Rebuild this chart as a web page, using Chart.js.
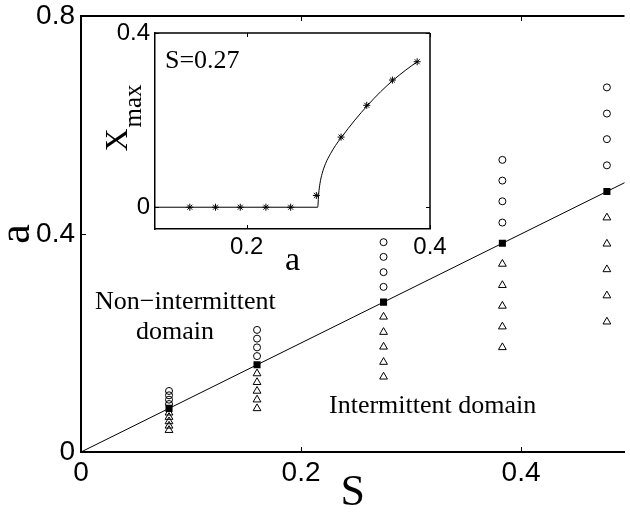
<!DOCTYPE html>
<html>
<head>
<meta charset="utf-8">
<script src="https://cdn.jsdelivr.net/npm/chart.js@4.4.0/dist/chart.umd.min.js"></script>
<style>
body{margin:0;background:#fff}
#wrap{position:relative;width:630px;height:512px;overflow:hidden}
#main{position:absolute;left:0;top:0}
#inset{position:absolute;left:95px;top:0}
</style>
</head>
<body>
<div id="wrap">
<canvas id="main" width="630" height="512"></canvas>
<canvas id="inset" width="370" height="300"></canvas>
</div>
<script>
// main plot: critical line a = S, probe points above (circles) and below (triangles)
var sCols     = [0.08, 0.16, 0.275, 0.383, 0.478];
var aSquare   = [0.08, 0.16, 0.275, 0.383, 0.478];
var aCircle   = [
	[0.088, 0.096, 0.104, 0.112],
	[0.176, 0.192, 0.208, 0.224],
	[0.303, 0.330, 0.358, 0.385],
	[0.421, 0.460, 0.498, 0.536],
	[0.526, 0.574, 0.621, 0.669]
];
var aTriangle = [
	[0.072, 0.064, 0.056, 0.048, 0.040],
	[0.144, 0.128, 0.112, 0.096, 0.080],
	[0.248, 0.220, 0.193, 0.165, 0.138],
	[0.345, 0.306, 0.268, 0.230, 0.192],
	[0.430, 0.382, 0.335, 0.287, 0.239]
];
var lineS  = [0, 0.6];
var lineA  = [0, 0.6];
var xTicks = [0, 0.2, 0.4];
var yTicks = [0, 0.4, 0.8];

// inset: X_max against a, S=0.27
var insetStarA  = [0.138, 0.166, 0.193, 0.221, 0.248, 0.276, 0.303, 0.331, 0.359, 0.386];
var insetStarX  = [0, 0, 0, 0, 0, 0.027, 0.161, 0.234, 0.292, 0.334];
var insetCurveA = [0.1, 0.2775, 0.2785, 0.2800, 0.2823, 0.2860, 0.2915, 0.2970, 0.3036, 0.318, 0.332, 0.346, 0.360, 0.373, 0.386];
var insetCurveX = [0, 0, 0.030, 0.055, 0.077, 0.100, 0.123, 0.142, 0.161, 0.200, 0.234, 0.265, 0.292, 0.314, 0.334];
var insetXTicks = [0.2, 0.4];
var insetYTicks = [0, 0.4];

var SERIF = 'Liberation Serif';
var SANS  = 'Liberation Sans';

function pairs(xs, ys){
	return xs.map(function(x, i){ return {x: x, y: ys[i]}; });
}
function columnPoints(cols, vals){
	var pts = [];
	cols.forEach(function(s, i){
		vals[i].forEach(function(a){ pts.push({x: s, y: a}); });
	});
	return pts;
}
function fixTicks(list){
	return function(scale){ scale.ticks = list.map(function(v){ return {value: v}; }); };
}
function fixSize(prop, size){
	return function(scale){
		scale[prop] = size;
		scale.paddingLeft = 0; scale.paddingRight = 0;
		scale.paddingTop = 0; scale.paddingBottom = 0;
	};
}

// top/right frame lines plus inward tick marks
function makeFrame(width, right, len){
	return {
		id: 'frame',
		afterDraw: function(chart){
			var ctx = chart.ctx, ca = chart.chartArea, sx = chart.scales.x, sy = chart.scales.y;
			ctx.save();
			ctx.strokeStyle = '#000';
			ctx.lineWidth = width;
			ctx.beginPath();
			ctx.moveTo(ca.left, ca.top); ctx.lineTo(ca.right, ca.top);
			if(right){ ctx.moveTo(ca.right, ca.top); ctx.lineTo(ca.right, ca.bottom); }
			ctx.stroke();
			ctx.lineWidth = 1;
			ctx.beginPath();
			sx.ticks.forEach(function(t){
				var px = Math.round(sx.getPixelForValue(t.value)) + 0.5;
				ctx.moveTo(px, ca.bottom); ctx.lineTo(px, ca.bottom - len);
				ctx.moveTo(px, ca.top); ctx.lineTo(px, ca.top + len);
			});
			sy.ticks.forEach(function(t){
				var py = Math.round(sy.getPixelForValue(t.value)) + 0.5;
				ctx.moveTo(ca.left, py); ctx.lineTo(ca.left + len, py);
				if(right){ ctx.moveTo(ca.right, py); ctx.lineTo(ca.right - len, py); }
			});
			ctx.stroke();
			ctx.restore();
		}
	};
}

function makeNotes(items){
	return {
		id: 'notes',
		afterDraw: function(chart){
			var ctx = chart.ctx;
			items.forEach(function(n){
				ctx.save();
				ctx.fillStyle = '#000';
				ctx.font = n.font;
				ctx.textAlign = n.align || 'left';
				ctx.textBaseline = n.baseline || 'alphabetic';
				ctx.translate(n.x, n.y);
				if(n.rotate) ctx.rotate(n.rotate);
				ctx.fillText(n.text, 0, 0);
				ctx.restore();
			});
		}
	};
}

var whiteArea = {
	id: 'whiteArea',
	beforeDraw: function(chart){
		var ca = chart.chartArea;
		chart.ctx.save();
		chart.ctx.fillStyle = '#fff';
		chart.ctx.fillRect(ca.left, ca.top, ca.right - ca.left, ca.bottom - ca.top);
		chart.ctx.restore();
	}
};

var mainChart = new Chart(document.getElementById('main'), {
	type: 'scatter',
	data: {
		datasets: [
			{ data: pairs(sCols, aSquare), pointStyle: 'rect', pointRadius: 5, backgroundColor: '#000', borderColor: '#000', borderWidth: 0 },
			{ data: columnPoints(sCols, aCircle), pointStyle: 'circle', pointRadius: 3.5, backgroundColor: 'rgba(0,0,0,0)', borderColor: '#000', borderWidth: 1 },
			{ data: columnPoints(sCols, aTriangle), pointStyle: 'triangle', pointRadius: 4.5, backgroundColor: 'rgba(0,0,0,0)', borderColor: '#000', borderWidth: 1 },
			{ data: pairs(lineS, lineA), showLine: true, pointRadius: 0, borderColor: '#000', borderWidth: 1 }
		]
	},
	options: {
		responsive: false,
		animation: false,
		events: [],
		layout: { padding: { top: 16, right: 0, left: 0, bottom: 0 } },
		plugins: { legend: { display: false }, tooltip: { enabled: false } },
		scales: {
			x: {
				type: 'linear', min: 0, max: 0.494,
				afterBuildTicks: fixTicks(xTicks),
				afterFit: fixSize('height', 60),
				grid: { display: false, drawTicks: false },
				border: { color: '#000', width: 2 },
				ticks: { padding: 4, color: '#000', font: { family: SANS, size: 28 }, callback: function(v){ return String(v); } },
				title: { display: true, text: 'S', color: '#000', font: { family: SERIF, size: 44, lineHeight: 1 }, padding: { top: 0, bottom: -3 } }
			},
			y: {
				type: 'linear', min: 0, max: 0.8,
				afterBuildTicks: fixTicks(yTicks),
				afterFit: fixSize('width', 81),
				grid: { display: false, drawTicks: false },
				border: { color: '#000', width: 2 },
				ticks: { padding: 6, color: '#000', font: { family: SANS, size: 28 }, callback: function(v){ return String(v); } },
				title: { display: true, text: 'a', color: '#000', font: { family: SERIF, size: 44, lineHeight: 1 }, padding: { top: -5, bottom: 0 } }
			}
		}
	},
	plugins: [
		makeFrame(2, false, 5),
		makeNotes([
			{ text: 'Non\u2212intermittent', x: 95, y: 309, font: '26px ' + SERIF },
			{ text: 'domain', x: 175, y: 339, font: '26px ' + SERIF, align: 'center' },
			{ text: 'Intermittent domain', x: 329, y: 413, font: '26px ' + SERIF }
		])
	]
});

var insetChart = new Chart(document.getElementById('inset'), {
	type: 'scatter',
	data: {
		datasets: [
			{ data: pairs(insetStarA, insetStarX), pointStyle: 'star', pointRadius: 3.5, borderColor: '#000', backgroundColor: '#000', borderWidth: 1 },
			{ data: pairs(insetCurveA, insetCurveX), showLine: true, pointRadius: 0, borderColor: '#000', borderWidth: 1, cubicInterpolationMode: 'monotone' }
		]
	},
	options: {
		responsive: false,
		animation: false,
		events: [],
		layout: { padding: { top: 33, right: 35, left: 0, bottom: 0 } },
		plugins: { legend: { display: false }, tooltip: { enabled: false } },
		scales: {
			x: {
				type: 'linear', min: 0.1, max: 0.4,
				afterBuildTicks: fixTicks(insetXTicks),
				afterFit: fixSize('height', 71),
				grid: { display: false, drawTicks: false },
				border: { color: '#000', width: 1.5 },
				ticks: { padding: 4, color: '#000', font: { family: SANS, size: 24 }, callback: function(v){ return String(v); } },
				title: { display: true, text: 'a', color: '#000', font: { family: SERIF, size: 34, lineHeight: 1 }, padding: { top: 0, bottom: 22 } }
			},
			y: {
				type: 'linear', min: -0.05, max: 0.4,
				afterBuildTicks: fixTicks(insetYTicks),
				afterFit: fixSize('width', 60),
				grid: { display: false, drawTicks: false },
				border: { color: '#000', width: 1.5 },
				ticks: { padding: 5, color: '#000', font: { family: SANS, size: 24 }, callback: function(v){ return String(v); } }
			}
		}
	},
	plugins: [
		whiteArea,
		makeFrame(1.5, true, 4),
		makeNotes([
			{ text: 'S=0.27', x: 70, y: 68, font: '26px ' + SERIF },
			{ text: 'X', x: 24, y: 140, font: '32px ' + SERIF, align: 'center', baseline: 'middle', rotate: -Math.PI / 2 },
			{ text: 'max', x: 39, y: 106, font: '25px ' + SERIF, align: 'center', baseline: 'middle', rotate: -Math.PI / 2 }
		])
	]
});
</script>
</body>
</html>
